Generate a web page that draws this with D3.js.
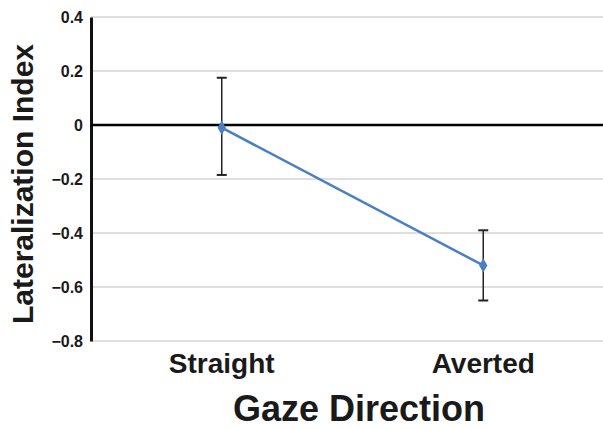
<!DOCTYPE html>
<html>
<head>
<meta charset="utf-8">
<script src="https://cdn.jsdelivr.net/npm/d3@7"></script>
<style>
  body { margin: 0; background: #fff; }
  text { font-family: Arial, "Liberation Sans", sans-serif; font-weight: bold; fill: #1a1a1a; }
</style>
</head>
<body>
<div id="chart"></div>
<script>
// data
var categories = ["Straight", "Averted"];
var means = [-0.01, -0.52];
var upper = [0.175, -0.39];
var lower = [-0.185, -0.65];
var yTicks = [0.4, 0.2, 0, -0.2, -0.4, -0.6, -0.8];

var width = 603, height = 429;
var plotLeft = 91, plotRight = 614, plotTop = 17, plotBottom = 341;

var svg = d3.select("#chart").append("svg")
    .attr("width", width)
    .attr("height", height);

var x = d3.scalePoint().domain(categories).range([plotLeft, plotRight]).padding(0.5);
var y = d3.scaleLinear().domain([-0.8, 0.4]).range([plotBottom, plotTop]);

// gridlines
svg.selectAll()
    .data(yTicks.filter(d => d !== 0))
    .enter().append("line")
    .attr("x1", plotLeft)
    .attr("x2", width)
    .attr("y1", d => y(d))
    .attr("y2", d => y(d))
    .style("stroke", "#d4d4d4")
    .style("stroke-width", 1.5);

// y axis
var yAxis = d3.axisLeft(y).tickValues(yTicks).tickSize(0).tickPadding(8)
    .tickFormat(d => d === 0 ? "0" : d3.format(".1f")(d));
var ga = svg.append("g").attr("transform", "translate(" + plotLeft + ",0)").call(yAxis);
ga.select(".domain").style("stroke", "#111").style("stroke-width", 3);
ga.selectAll("text")
    .style("font-size", "16px")
    .style("font-family", "Arial, 'Liberation Sans', sans-serif")
    .style("font-weight", "bold")
    .attr("fill", "#1a1a1a");

// zero line
svg.append("line")
    .attr("x1", plotLeft).attr("x2", width)
    .attr("y1", y(0)).attr("y2", y(0))
    .style("stroke", "#000")
    .style("stroke-width", 2.5);

// error bars
var rows = categories.map((c, i) => ({cat: c, m: means[i], hi: upper[i], lo: lower[i]}));
svg.selectAll()
    .data(rows).enter().append("line")
    .attr("x1", d => x(d.cat)).attr("x2", d => x(d.cat))
    .attr("y1", d => y(d.hi)).attr("y2", d => y(d.lo))
    .style("stroke", "#222").style("stroke-width", 1.5);
svg.selectAll()
    .data(rows.flatMap(d => [{cat: d.cat, v: d.hi}, {cat: d.cat, v: d.lo}])).enter().append("line")
    .attr("x1", d => x(d.cat) - 5).attr("x2", d => x(d.cat) + 5)
    .attr("y1", d => y(d.v)).attr("y2", d => y(d.v))
    .style("stroke", "#222").style("stroke-width", 2);

// line
svg.append("path")
    .datum(rows)
    .attr("d", d3.line().x(d => x(d.cat)).y(d => y(d.m)))
    .style("fill", "none")
    .style("stroke", "#4a7fc4")
    .style("stroke-width", 2.5);

// points
svg.selectAll()
    .data(rows).enter().append("path")
    .attr("d", d3.symbol().type(d3.symbolDiamond).size(60))
    .attr("transform", d => "translate(" + x(d.cat) + "," + y(d.m) + ")")
    .style("fill", "#4a7fc4");

// x labels
svg.selectAll()
    .data(categories).enter().append("text")
    .attr("x", d => x(d))
    .attr("y", 373)
    .attr("text-anchor", "middle")
    .style("font-size", "28px")
    .text(d => d);

svg.append("text")
    .attr("x", 359)
    .attr("y", 421)
    .attr("text-anchor", "middle")
    .style("font-size", "36px")
    .text("Gaze Direction");

svg.append("text")
    .attr("transform", "translate(33,184) rotate(-90)")
    .attr("text-anchor", "middle")
    .style("font-size", "30px")
    .text("Lateralization Index");
</script>
</body>
</html>
